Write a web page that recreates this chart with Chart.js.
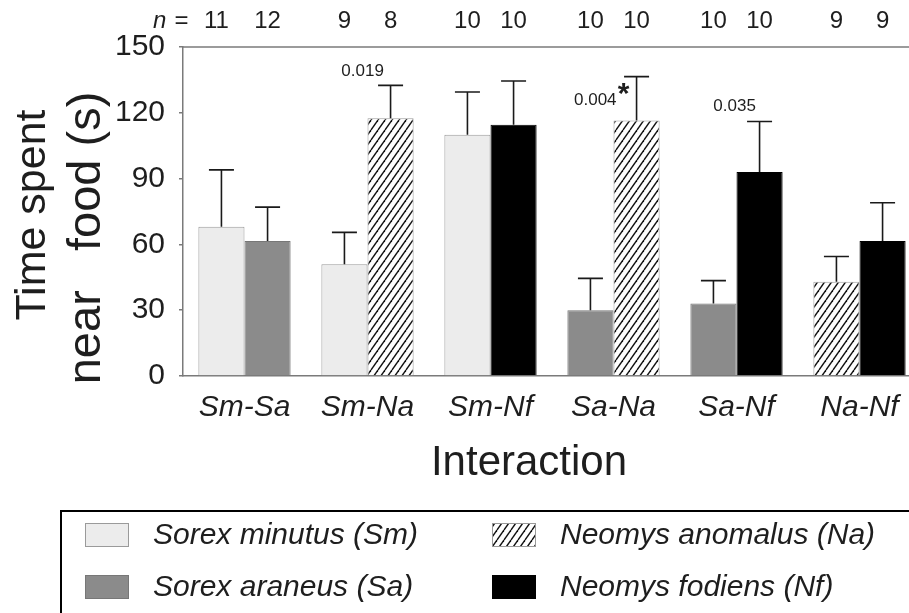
<!DOCTYPE html>
<html>
<head>
<meta charset="utf-8">
<script src="https://cdn.jsdelivr.net/npm/chart.js@4"></script>
<style>
  html, body { margin: 0; padding: 0; background: #fff; overflow: hidden; }
  #wrap { position: relative; width: 930px; height: 613px; }
</style>
</head>
<body>
<div id="wrap"><canvas id="shrew-chart"></canvas></div>
<script>
// Interaction pairs and the two species in each pair
const categories = ["Sm-Sa", "Sm-Na", "Sm-Nf", "Sa-Na", "Sa-Nf", "Na-Nf"];
const leftSpecies = ["Sm", "Sm", "Sm", "Sa", "Sa", "Na"];
const rightSpecies = ["Sa", "Na", "Nf", "Na", "Nf", "Nf"];

// Mean time spent near food (s) and upper error
const leftMeans = [68, 51, 110, 30, 33, 43];
const leftErrors = [26, 14.5, 19.5, 14.5, 10.5, 11.5];
const rightMeans = [61.5, 117.5, 114.5, 116.5, 93, 61.5];
const rightErrors = [15.5, 15, 20, 20, 23, 17.5];

// Sample sizes
const leftN = [11, 9, 10, 10, 10, 9];
const rightN = [12, 8, 10, 10, 10, 9];

// p-values shown above the right bar
const rightPValues = [null, "0.019", null, "0.004", "0.035", null];
const rightStars = [null, null, null, "*", null, null];

const yTicks = [0, 30, 60, 90, 120, 150];

const legendNames = {
  Sm: "Sorex minutus (Sm)",
  Sa: "Sorex araneus (Sa)",
  Na: "Neomys anomalus (Na)",
  Nf: "Neomys fodiens (Nf)",
};

const FONT = "'Liberation Sans', Arial, sans-serif";
const TEXT = "#1e1e1e";
const AXIS = "#7a7a7a";

// hatch pattern for Neomys anomalus
function makeHatch() {
  const w = 7, h = 10;
  const c = document.createElement("canvas");
  c.width = w;
  c.height = h;
  const g = c.getContext("2d");
  g.fillStyle = "#fff";
  g.fillRect(0, 0, w, h);
  g.strokeStyle = "#111";
  g.lineWidth = 1.4;
  for (const dx of [-w, 0, w]) {
    g.beginPath();
    g.moveTo(dx, h);
    g.lineTo(dx + w, 0);
    g.stroke();
  }
  return g.createPattern(c, "repeat");
}
const hatch = makeHatch();

const fills = { Sm: "#ececec", Sa: "#8b8b8b", Na: hatch, Nf: "#000000" };
const borders = { Sm: "#9a9a9a", Sa: "#777777", Na: "#9a9a9a", Nf: "#000000" };

// offsets of the p-value labels from the top of the error bar
const pLabelStyle = [
  null,
  { dx: -28, dy: -14, align: "center" },
  null,
  { dx: -20, dy: 24, align: "right", starDx: -13, starDy: 18 },
  { dx: -25, dy: -15, align: "center" },
  null,
];

const errorBars = {
  id: "errorBars",
  afterDatasetsDraw(chart) {
    const ctx = chart.ctx;
    const y = chart.scales.y;
    const area = chart.chartArea;
    const sets = [
      { means: leftMeans, errs: leftErrors, ns: leftN },
      { means: rightMeans, errs: rightErrors, ns: rightN },
    ];
    ctx.save();
    sets.forEach((s, di) => {
      const meta = chart.getDatasetMeta(di);
      meta.data.forEach((bar, i) => {
        const top = y.getPixelForValue(s.means[i] + s.errs[i]);
        const base = y.getPixelForValue(s.means[i]);
        ctx.strokeStyle = "#1a1a1a";
        ctx.lineWidth = 1.6;
        ctx.beginPath();
        ctx.moveTo(bar.x, base);
        ctx.lineTo(bar.x, top);
        ctx.moveTo(bar.x - 12.5, top);
        ctx.lineTo(bar.x + 12.5, top);
        ctx.stroke();

        // n labels above the plot
        ctx.fillStyle = TEXT;
        ctx.font = "24px " + FONT;
        ctx.textAlign = "center";
        ctx.textBaseline = "middle";
        ctx.fillText(String(s.ns[i]), bar.x - (di === 0 && i === 0 ? 5 : 0), 21);
        if (di === 0 && i === 0) {
          ctx.textAlign = "right";
          ctx.fillText("=", bar.x - 33, 21);
          ctx.font = "italic 24px " + FONT;
          ctx.fillText("n", bar.x - 55, 21);
        }

        // p-values
        if (di === 1 && rightPValues[i]) {
          const st = pLabelStyle[i];
          ctx.font = "17px " + FONT;
          ctx.textAlign = st.align;
          ctx.fillText(rightPValues[i], bar.x + st.dx, top + st.dy);
          if (rightStars[i]) {
            ctx.font = "bold 30px " + FONT;
            ctx.textAlign = "center";
            ctx.fillText(rightStars[i], bar.x + st.starDx, top + st.starDy);
          }
        }
      });
    });

    // frame line along the top of the plot
    ctx.strokeStyle = AXIS;
    ctx.lineWidth = 1.5;
    ctx.beginPath();
    ctx.moveTo(area.left, area.top);
    ctx.lineTo(area.right + 20, area.top);
    ctx.stroke();

    // axis titles
    ctx.fillStyle = TEXT;
    ctx.font = "42px " + FONT;
    ctx.textAlign = "center";
    ctx.textBaseline = "middle";
    ctx.fillText("Interaction", 529, 463);

    ctx.save();
    ctx.rotate(-Math.PI / 2);
    ctx.textBaseline = "alphabetic";
    ctx.font = "43px " + FONT;
    ctx.fillText("Time spent", -215, 45);
    ctx.font = "47px " + FONT;
    ctx.fillText("near\u00a0\u00a0\u00a0food (s)", -238, 100);
    ctx.restore();

    // legend box
    ctx.strokeStyle = "#000";
    ctx.lineWidth = 2;
    ctx.beginPath();
    ctx.moveTo(61, 640);
    ctx.lineTo(61, 511);
    ctx.lineTo(940, 511);
    ctx.stroke();

    const items = [
      ["Sm", 85, 523], ["Sa", 85, 575],
      ["Na", 492, 523], ["Nf", 492, 575],
    ];
    items.forEach(([sp, x0, y0]) => {
      ctx.fillStyle = fills[sp];
      ctx.fillRect(x0, y0, 44, 24);
      ctx.strokeStyle = borders[sp];
      ctx.lineWidth = 1;
      ctx.strokeRect(x0 + 0.5, y0 + 0.5, 43, 23);
      ctx.fillStyle = TEXT;
      ctx.font = "italic 30px " + FONT;
      ctx.textAlign = "left";
      ctx.textBaseline = "middle";
      ctx.fillText(legendNames[sp], x0 + 68, y0 + 13);
    });
    ctx.restore();
  },
};

new Chart("shrew-chart", {
  type: "bar",
  data: {
    labels: categories,
    datasets: [
      {
        label: "left",
        data: leftMeans,
        backgroundColor: leftSpecies.map((s) => fills[s]),
        borderColor: leftSpecies.map((s) => borders[s]),
        borderWidth: 1,
        borderSkipped: "bottom",
      },
      {
        label: "right",
        data: rightMeans,
        backgroundColor: rightSpecies.map((s) => fills[s]),
        borderColor: rightSpecies.map((s) => borders[s]),
        borderWidth: 1,
        borderSkipped: "bottom",
      },
    ],
  },
  options: {
    responsive: true,
    maintainAspectRatio: false,
    animation: false,
    categoryPercentage: 0.75,
    barPercentage: 1.0,
    layout: { padding: { top: 47, right: 9, left: 0, bottom: 0 } },
    plugins: { legend: { display: false }, tooltip: { enabled: false } },
    scales: {
      x: {
        grid: { display: false, drawTicks: false },
        border: { color: AXIS, width: 1.5 },
        ticks: {
          color: TEXT,
          padding: 14,
          font: { family: FONT, size: 30, style: "italic" },
        },
        afterFit(scale) { scale.height = 613 - 376; },
      },
      y: {
        min: 0,
        max: 150,
        afterBuildTicks(scale) { scale.ticks = yTicks.map((v) => ({ value: v })); },
        grid: { drawOnChartArea: false, tickLength: 4, color: AXIS, lineWidth: 1.5 },
        border: { color: AXIS, width: 1.5 },
        ticks: {
          color: TEXT,
          padding: 14,
          font: { family: FONT, size: 30 },
        },
        afterFit(scale) { scale.width = 183; },
      },
    },
  },
  plugins: [errorBars],
});
</script>
</body>
</html>
